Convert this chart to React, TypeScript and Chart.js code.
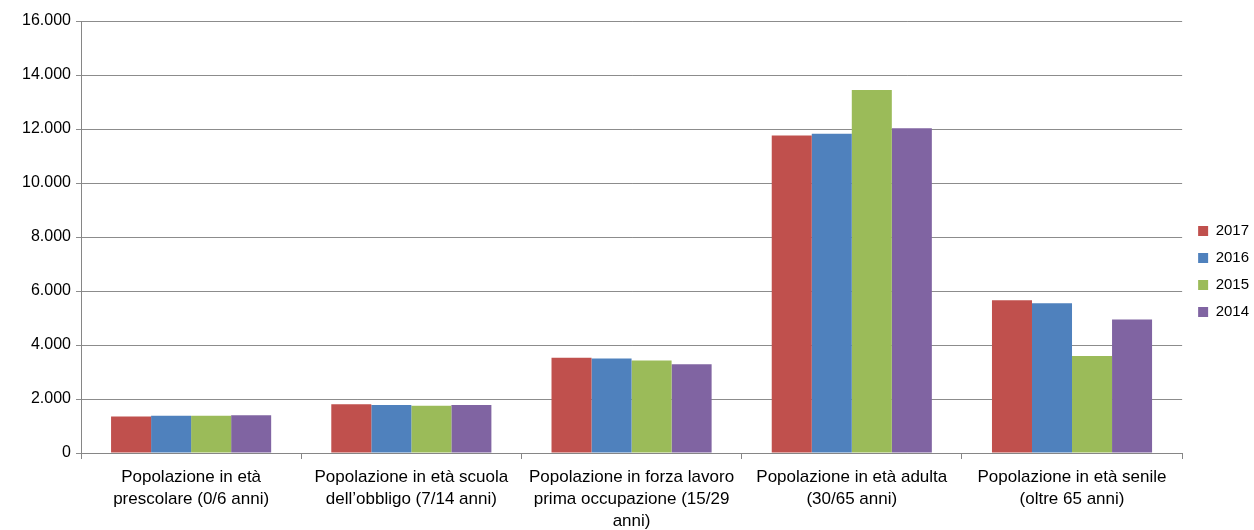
import { useEffect, useRef } from "react";
import { Chart, registerables } from "chart.js";

Chart.register(...registerables);

// Age groups (multi-line axis labels)
const categories: string[][] = [
  ["Popolazione in età", "prescolare (0/6 anni)"],
  ["Popolazione in età scuola", "dell’obbligo (7/14 anni)"],
  ["Popolazione in forza lavoro", "prima occupazione (15/29", "anni)"],
  ["Popolazione in età adulta", "(30/65 anni)"],
  ["Popolazione in età senile", "(oltre 65 anni)"],
];

const years = ["2017", "2016", "2015", "2014"];

const values2017 = [1350, 1810, 3530, 11760, 5660];
const values2016 = [1380, 1780, 3500, 11820, 5550];
const values2015 = [1380, 1750, 3430, 13440, 3590];
const values2014 = [1400, 1780, 3290, 12030, 4940];

const seriesColors = ["#C0504D", "#4F81BD", "#9BBB59", "#8064A2"];

const yMax = 16000;
const yStep = 2000;

const FONT = "'Liberation Sans', Arial, sans-serif";

// Italian thousands separator: 16000 -> "16.000"
const formatThousands = (v: number) =>
  String(Math.round(v)).replace(/\B(?=(\d{3})+(?!\d))/g, ".");

// Nudges the right-hand legend slightly up and to the right
const legendNudge = {
  id: "legendNudge",
  afterLayout(chart: any) {
    const lg = chart.legend;
    if (!lg) return;
    lg.top -= 4;
    lg.bottom -= 4;
    lg.left += 4;
    lg.right += 4;
    lg.adjustHitBoxes && lg.adjustHitBoxes();
  },
};

export default function App() {
  const canvasRef = useRef<HTMLCanvasElement | null>(null);

  useEffect(() => {
    if (!canvasRef.current) return;
    const seriesValues = [values2017, values2016, values2015, values2014];
    const chart = new Chart(canvasRef.current, {
      type: "bar",
      data: {
        labels: categories,
        datasets: years.map((year, i) => ({
          label: year,
          data: seriesValues[i],
          backgroundColor: seriesColors[i],
          borderWidth: 0,
          categoryPercentage: 0.727,
          barPercentage: 1,
        })),
      },
      plugins: [legendNudge],
      options: {
        animation: false,
        responsive: true,
        maintainAspectRatio: false,
        layout: { padding: { top: 21, right: -1, bottom: 0, left: 0 } },
        plugins: {
          tooltip: { enabled: false },
          legend: {
            position: "right",
            labels: {
              boxWidth: 10,
              boxHeight: 10,
              padding: 12,
              color: "#000",
              font: { family: FONT, size: 15 },
            },
          },
        },
        scales: {
          x: {
            afterFit: (scale: any) => {
              scale.height = 77;
            },
            grid: {
              offset: true,
              drawOnChartArea: false,
              drawTicks: true,
              tickLength: 6,
              color: "#868686",
            },
            border: { color: "#868686", width: 1 },
            ticks: {
              color: "#000",
              padding: 7,
              maxRotation: 0,
              autoSkip: false,
              font: { family: FONT, size: 17, lineHeight: "22px" },
            },
          },
          y: {
            min: 0,
            max: yMax,
            afterFit: (scale: any) => {
              scale.width = 81;
            },
            grid: {
              color: "#8c8c8c",
              lineWidth: 1,
              drawTicks: true,
              tickLength: 5,
            },
            border: { color: "#868686", width: 1 },
            ticks: {
              stepSize: yStep,
              color: "#000",
              padding: 5,
              font: { family: FONT, size: 16 },
              callback: (v: any) => formatThousands(Number(v)),
            },
          },
        },
      },
    });
    return () => chart.destroy();
  }, []);

  return (
    <div
      style={{
        position: "fixed",
        left: 0,
        top: 0,
        width: 1254,
        height: 530,
        background: "#fff",
      }}
    >
      <canvas ref={canvasRef} />
    </div>
  );
}
